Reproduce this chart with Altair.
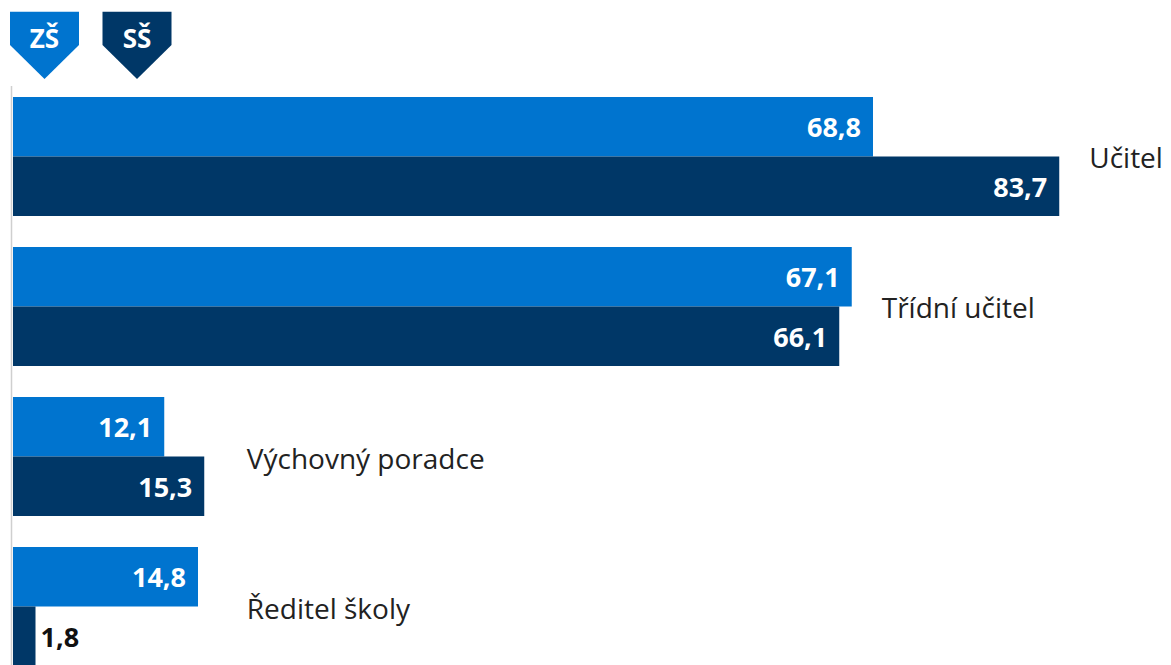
import altair as alt
import pandas as pd

categories = ["Učitel", "Třídní učitel", "Výchovný poradce", "Ředitel školy"]
series = ["ZŠ", "SŠ"]
zs_values = [68.8, 67.1, 12.1, 14.8]
ss_values = [83.7, 66.1, 15.3, 1.8]
colors = ["#0074CF", "#003767"]

FONT = "Open Sans"

rows = []
for c, a, b in zip(categories, zs_values, ss_values):
    for s, v in zip(series, [a, b]):
        rows.append({"cat": c, "series": s, "value": v,
                     "label": f"{v:.1f}".replace(".", ","),
                     "inside": v > 5})
df = pd.DataFrame(rows)
df_cat = pd.DataFrame({"cat": categories,
                       "top": [max(a, b) for a, b in zip(zs_values, ss_values)]})

yscale = alt.Scale(domain=categories, range=[0, 600], paddingInner=0.2067, paddingOuter=0.1033)
xscale = alt.Scale(domain=[0, 88], nice=False, zero=True)

base = alt.Chart(df).encode(
    y=alt.Y("cat:N", sort=categories, scale=yscale, axis=None),
    yOffset=alt.YOffset("series:N", sort=series, scale=alt.Scale(domain=series, paddingInner=0, paddingOuter=0)),
    x=alt.X("value:Q", scale=xscale, axis=None),
)

bars = base.mark_bar(cornerRadius=0, strokeWidth=0).encode(
    color=alt.Color("series:N", scale=alt.Scale(domain=series, range=colors), legend=None)
)

lab_in = base.transform_filter("datum.inside").mark_text(
    align="right", baseline="alphabetic", dx=-12, dy=10.5, color="white",
    fontWeight="bold", fontSize=27, font=FONT
).encode(text="label:N")

lab_out = base.transform_filter("!datum.inside").mark_text(
    align="left", baseline="alphabetic", dx=5, dy=11, color="#111111",
    fontWeight="bold", fontSize=27, font=FONT
).encode(text="label:N")

# category labels sit right of the longer bar, with a minimum indent
cat_labels = alt.Chart(df_cat).transform_calculate(
    anchor="max(datum.top, 16.3)"
).mark_text(
    align="left", baseline="alphabetic", dx=30, dy=12, color="#222222",
    fontSize=28, font=FONT
).encode(
    y=alt.Y("cat:N", sort=categories, scale=yscale, axis=None),
    x=alt.X("anchor:Q", scale=xscale, axis=None),
    text="cat:N",
)

axis_line = alt.Chart(pd.DataFrame({"a": [0]})).mark_rule(
    color="#CFCFCF", strokeWidth=1.5
).encode(x=alt.value(-1.5), y=alt.value(4.5), y2=alt.value(600))

badge_path = "M-1,-0.975 L1,-0.975 L1,-0.01 L0,0.975 L-1,-0.01 Z"
badge_x = [31.5, 124]
badges = []
for s, col, bx in zip(series, colors, badge_x):
    d = pd.DataFrame({"s": [s]})
    badges.append(
        alt.Chart(d).mark_point(shape=badge_path, size=4761, filled=True,
                                color=col, opacity=1, strokeWidth=0)
        .encode(x=alt.value(bx), y=alt.value(-36.2))
    )
    badges.append(
        alt.Chart(d).mark_text(color="white", fontWeight="bold", fontSize=26,
                               font=FONT, baseline="alphabetic", align="center")
        .encode(x=alt.value(bx), y=alt.value(-33.8), text="s:N")
    )

chart = alt.layer(axis_line, bars, lab_in, lab_out, cat_labels, *badges).properties(
    width=1100, height=583.5,
    padding={"left": 5, "top": 73.5, "right": 50, "bottom": 0},
    autosize=alt.AutoSizeParams(type="none"),
).configure_view(stroke=None)

chart.save("out.html", embed_options={"renderer": "svg", "actions": False})
